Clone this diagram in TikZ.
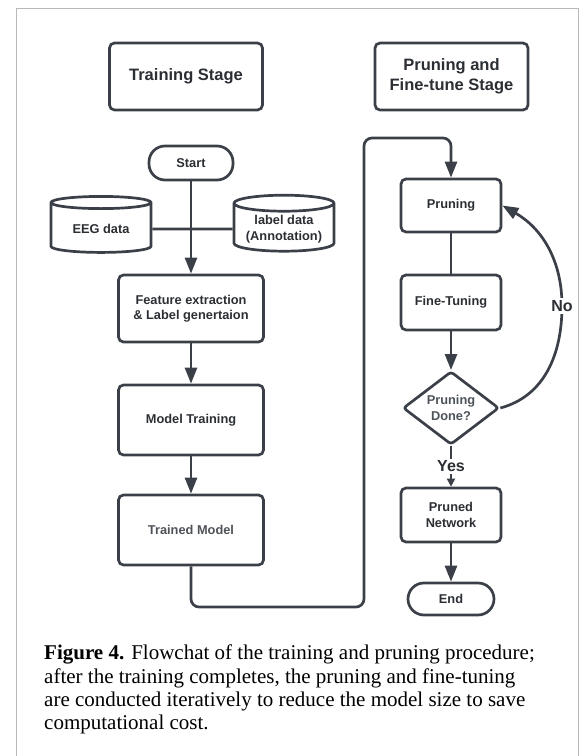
\documentclass[tikz,border=0pt]{standalone}
\usepackage{fontspec}
\setmainfont{Liberation Sans}
\newfontfamily\captionserif{Liberation Serif}
\usetikzlibrary{arrows.meta,shapes.geometric}

\definecolor{flowline}{HTML}{3B4048}
\definecolor{flowtext}{HTML}{2B2F34}
\definecolor{softtext}{HTML}{4E5359}
\definecolor{framegray}{HTML}{B8B8B8}

\tikzset{
  stagebox/.style={draw=flowline, line width=2.7pt, rounded corners=5pt,
    minimum width=153pt, minimum height=67pt, align=center, text=flowtext,
    font=\fontsize{16.5}{20.5}\selectfont\bfseries},
  procbox/.style={draw=flowline, line width=2.7pt, rounded corners=5pt,
    minimum width=100pt, align=center, text=flowtext,
    font=\fontsize{12.8}{15.5}\selectfont\bfseries},
  termbox/.style={procbox, rounded corners=16pt, minimum width=84pt, minimum height=34pt},
  databox/.style={procbox, sharp corners, cylinder, shape border rotate=90, aspect=0.2,
    minimum width=100pt, minimum height=56pt, inner sep=2pt},
  decbox/.style={procbox, diamond, rounded corners=3pt, minimum width=96pt,
    minimum height=70pt, inner sep=0pt, text=softtext},
  flowarrow/.style={draw=flowline, line width=2.7pt, -{Triangle[width=12pt,length=16pt]}},
  flowplain/.style={draw=flowline, line width=2.7pt},
  flowlabel/.style={fill=white, inner sep=2pt, text=flowtext,
    font=\fontsize{16}{19}\selectfont\bfseries},
}

\begin{document}
\begin{tikzpicture}[x=1pt, y=1pt]
  \useasboundingbox (0,0) rectangle (584,756);

  %%%%% FRAME %%%%%
  \draw[framegray, line width=1.2pt] (16.5,-5) |- (578.5,747.7) -- (578.5,-5);

  %%%%% STAGES %%%%%
  \node[stagebox] (trainstage) at (186,679.5) {Training Stage};
  \node[stagebox] (prunestage) at (451.5,679.5) {Pruning and\\Fine-tune Stage};

  %%%%% TRAINING COLUMN %%%%%
  \node[termbox] (start) at (191,593) {Start};
  \node[databox] (eeg) at (101,527) {EEG data};
  \node[databox] (labeldata) at (284,527) {label data\\(Annotation)};
  \node[procbox, minimum width=145pt, minimum height=67pt] (feat) at (191,447.5)
    {Feature extraction\\\& Label genertaion};
  \node[procbox, minimum width=145pt, minimum height=70pt] (model) at (191,336) {Model Training};
  \node[procbox, minimum width=145pt, minimum height=70pt, text=softtext] (trained) at (191,226)
    {Trained Model};

  %%%%% PRUNING COLUMN %%%%%
  \node[procbox, minimum height=53pt] (prune) at (451,550.5) {Pruning};
  \node[procbox, minimum height=55pt] (fine) at (451,453.5) {Fine-Tuning};
  \node[decbox] (done) at (451,348) {Pruning\\Done?};
  \node[procbox, minimum height=54pt] (pruned) at (451,241) {Pruned\\Network};
  \node[termbox, minimum width=86pt, minimum height=32pt] (endn) at (451,157) {End};

  %%%%% CONNECTORS %%%%%
  \draw[flowplain] (eeg.east) -- (labeldata.west);
  \draw[flowarrow] (start.south) -- (feat.north);
  \draw[flowarrow] (feat.south) -- (model.north);
  \draw[flowarrow] (model.south) -- (trained.north);

  \coordinate (loopbot) at (364,149);
  \coordinate (looptop) at (364,618);
  \draw[flowarrow, rounded corners=8pt] (trained.south) |- (loopbot) -- (looptop) -| (prune.north);

  \draw[flowplain] (prune.south) -- (fine.north);
  \draw[flowarrow] (fine.south) -- (done.north);
  \draw[draw=flowline, line width=2.7pt, -{Triangle[width=8pt,length=8pt]}] (done.south) -- (pruned.north)
    node[midway, flowlabel] {Yes};
  \draw[flowarrow] (pruned.south) -- (endn.north);

  \coordinate (nobend) at (562,450);
  \draw[flowarrow] (done.east) to[out=15, in=-90] (nobend) to[out=90, in=-30] (prune.east);
  \node[flowlabel] at (nobend) {No};

  %%%%% CAPTION %%%%%
  \node[anchor=north west, inner sep=0pt, align=left,
    font=\captionserif\fontsize{21}{23.3}\selectfont] (caption) at (44,111)
    {\textbf{Figure 4.} Flowchat of the training and pruning procedure;\\
     after the training completes, the pruning and fine-tuning\\
     are conducted iteratively to reduce the model size to save\\
     computational cost.};
\end{tikzpicture}
\end{document}
